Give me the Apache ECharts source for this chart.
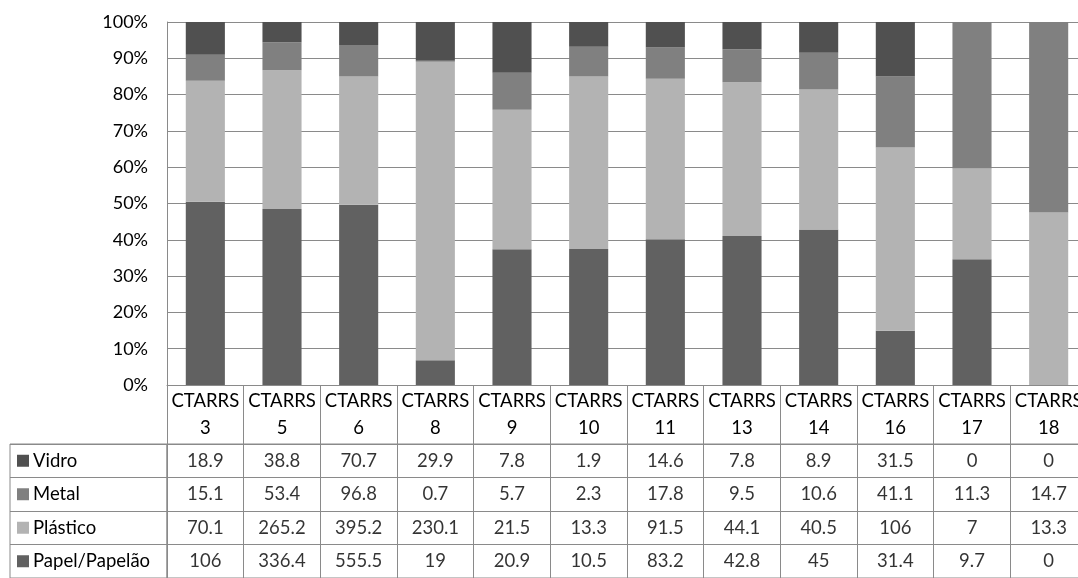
<!DOCTYPE html>
<html>
<head>
<meta charset="utf-8">
<script src="https://cdn.jsdelivr.net/npm/echarts@6/dist/echarts.min.js"></script>
<style>
  html, body { margin: 0; padding: 0; background: #fff; overflow: hidden; }
  /* the last table column runs slightly past the right edge of the page */
  #chart { width: 1087px; height: 578px; }
</style>
</head>
<body>
<div id="chart"></div>
<script>
// Composition of recyclable waste per CTARRS unit
const categories = ['CTARRS\n3', 'CTARRS\n5', 'CTARRS\n6', 'CTARRS\n8', 'CTARRS\n9', 'CTARRS\n10',
  'CTARRS\n11', 'CTARRS\n13', 'CTARRS\n14', 'CTARRS\n16', 'CTARRS\n17', 'CTARRS\n18'];
const vidro = [18.9, 38.8, 70.7, 29.9, 7.8, 1.9, 14.6, 7.8, 8.9, 31.5, 0, 0];
const metal = [15.1, 53.4, 96.8, 0.7, 5.7, 2.3, 17.8, 9.5, 10.6, 41.1, 11.3, 14.7];
const plastico = [70.1, 265.2, 395.2, 230.1, 21.5, 13.3, 91.5, 44.1, 40.5, 106, 7, 13.3];
const papel = [106, 336.4, 555.5, 19, 20.9, 10.5, 83.2, 42.8, 45, 31.4, 9.7, 0];
const yTicks = { min: 0, max: 100, interval: 10 };

// table rows, top to bottom
const rows = [
  { name: 'Vidro', values: vidro, color: '#505050' },
  { name: 'Metal', values: metal, color: '#808080' },
  { name: 'Plástico', values: plastico, color: '#b3b3b3' },
  { name: 'Papel/Papelão', values: papel, color: '#616161' }
];

const FONT = 'Lato';
const FS = 18.5;
const LINE = '#8a8a8a';

const totals = categories.map((_, i) => rows.reduce((s, r) => s + r.values[i], 0));
const pct = arr => arr.map((v, i) => totals[i] ? v / totals[i] * 100 : 0);

// stacked bars: bottom to top
const stackOrder = [rows[3], rows[2], rows[1], rows[0]];
const barSeries = stackOrder.map(r => ({
  name: r.name,
  type: 'bar',
  stack: 'total',
  barWidth: '51%',
  xAxisIndex: 0,
  yAxisIndex: 0,
  itemStyle: { color: r.color },
  data: pct(r.values),
  silent: true
}));

// table cell values
const cellData = [];
rows.forEach(r => r.values.forEach((v, i) => cellData.push([i, r.name, v])));

const richRows = {};
rows.forEach((r, i) => {
  richRows['s' + i] = { width: 12, height: 12, backgroundColor: r.color };
});
richRows.t = { fontFamily: FONT, fontSize: FS, color: '#000', padding: [0, 0, 0, 4] };

const chart = echarts.init(document.getElementById('chart'), null, { renderer: 'canvas' });
chart.setOption({
  animation: false,
  backgroundColor: '#fff',
  textStyle: { fontFamily: FONT },
  grid: [
    { left: 167, top: 22, right: 0, height: 363 },
    { left: 167, top: 444, right: 0, height: 140, show: true, borderColor: LINE, borderWidth: 1 },
    { left: 10, top: 444, width: 157, height: 140, show: true, borderColor: LINE, borderWidth: 1 }
  ],
  xAxis: [
    {
      gridIndex: 0, type: 'category', data: categories,
      axisLine: { lineStyle: { color: LINE } },
      axisTick: { show: true, length: 59, lineStyle: { color: LINE } },
      axisLabel: { interval: 0, fontFamily: FONT, fontSize: FS, color: '#000', lineHeight: 27, margin: 3 }
    },
    {
      gridIndex: 1, type: 'category', data: categories,
      axisLine: { show: false }, axisTick: { show: false }, axisLabel: { show: false },
      splitLine: { show: true, lineStyle: { color: LINE } }
    },
    {
      gridIndex: 2, type: 'value', min: 0, max: 1, show: false
    }
  ],
  yAxis: [
    {
      gridIndex: 0, type: 'value', min: yTicks.min, max: yTicks.max, interval: yTicks.interval,
      axisLine: { show: true, lineStyle: { color: LINE } },
      axisTick: { show: false },
      splitLine: { lineStyle: { color: LINE } },
      axisLabel: { formatter: '{value}%', fontFamily: FONT, fontSize: 18, color: '#000', margin: 19 }
    },
    {
      gridIndex: 1, type: 'category', inverse: true, data: rows.map(r => r.name),
      axisLine: { show: false }, axisTick: { show: false }, axisLabel: { show: false },
      splitLine: { show: true, lineStyle: { color: LINE } }
    },
    {
      gridIndex: 2, type: 'category', inverse: true, data: rows.map(r => r.name),
      axisLine: { show: false }, axisTick: { show: false },
      splitLine: { show: true, lineStyle: { color: LINE } },
      axisLabel: {
        inside: true, align: 'left', margin: 7,
        formatter: (v, i) => '{s' + i + '|}{t|' + v + '}',
        rich: richRows
      }
    }
  ],
  series: barSeries.concat([
    {
      type: 'scatter',
      xAxisIndex: 1, yAxisIndex: 1,
      symbolSize: 0,
      silent: true,
      data: cellData,
      label: {
        show: true, position: 'inside',
        fontFamily: FONT, fontSize: FS, color: '#000',
        formatter: p => String(p.value[2])
      }
    }
  ])
});
</script>
</body>
</html>
